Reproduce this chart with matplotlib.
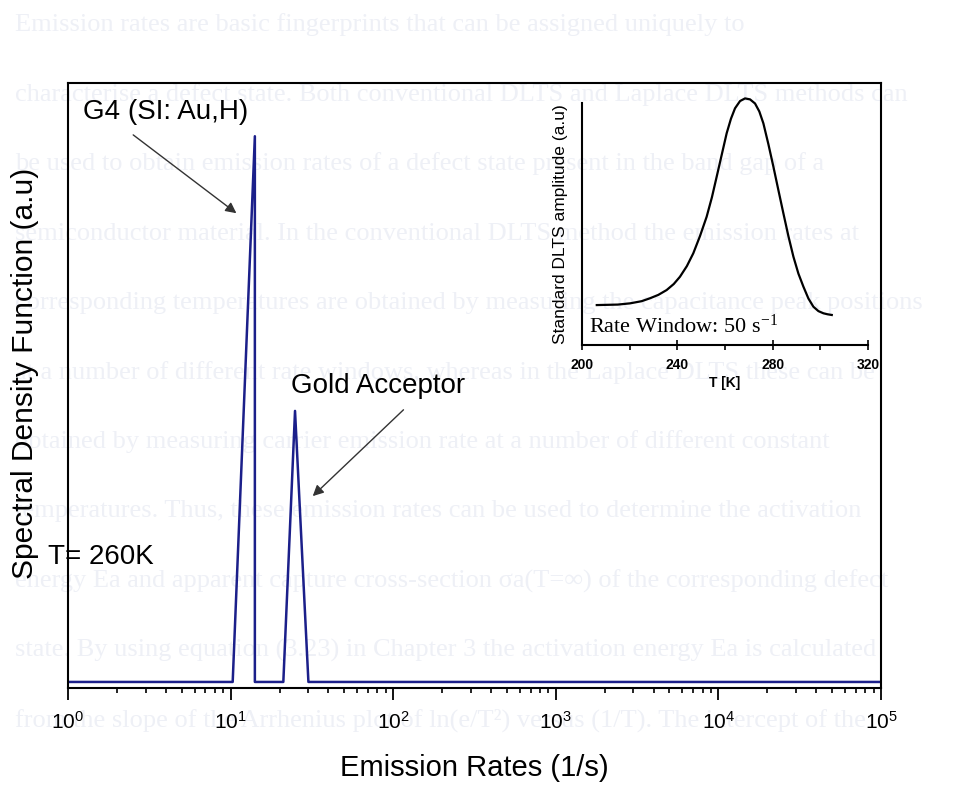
import matplotlib
matplotlib.use("Agg")
import matplotlib.pyplot as plt
from matplotlib.ticker import FixedLocator, LogLocator, NullFormatter

plt.rcParams["font.family"] = ["Liberation Sans", "DejaVu Sans"]
plt.rcParams["mathtext.default"] = "regular"

# Laplace DLTS spectrum at T = 260 K
rates = [1, 10.3, 14.1, 14.1, 21.1, 24.9, 30.1, 1e5]
density = [0.01, 0.01, 0.912, 0.01, 0.01, 0.458, 0.01, 0.01]

# inset: conventional DLTS scan, rate window 50 s^-1
temp_K = [206.2, 215.0, 220.1, 225.0, 228.5, 232.0, 235.5, 238.5, 241.1, 244.0,
          246.7, 249.5, 252.3, 254.5, 256.5, 258.6, 260.7, 262.5, 264.2, 266.3,
          268.4, 270.5, 272.6, 274.4, 276.1, 278.2, 280.3, 282.4, 284.5, 286.6,
          288.7, 290.8, 292.9, 295.0, 297.1, 299.2, 301.3, 303.0, 304.8]
dlts_amp = [0.165, 0.167, 0.172, 0.181, 0.193, 0.207, 0.227, 0.252, 0.282, 0.326,
            0.379, 0.450, 0.530, 0.610, 0.695, 0.785, 0.875, 0.935, 0.978, 1.008,
            1.019, 1.015, 0.998, 0.965, 0.916, 0.830, 0.737, 0.640, 0.544, 0.450,
            0.365, 0.295, 0.241, 0.192, 0.158, 0.140, 0.131, 0.127, 0.124]
inset_ticks = [200, 240, 280, 320]
inset_minor = [220, 260, 300]

# faded thesis text showing through the scan
page_lines = [
    "Emission rates are basic fingerprints that can be assigned uniquely to",
    "characterise a defect state. Both conventional DLTS and Laplace DLTS methods can",
    "be used to obtain emission rates of a defect state present in the band gap of a",
    "semiconductor material. In the conventional DLTS method the emission rates at",
    "corresponding temperatures are obtained by measuring the capacitance peak positions",
    "at a number of different rate windows, whereas in the Laplace DLTS these can be",
    "obtained by measuring carrier emission rate at a number of different constant",
    "temperatures. Thus, these emission rates can be used to determine the activation",
    "energy Ea and apparent capture cross-section \u03c3a(T=\u221e) of the corresponding defect",
    "state. By using equation (3.23) in Chapter 3 the activation energy Ea is calculated",
    "from the slope of the Arrhenius plot of ln(e/T\u00b2) versus (1/T). The intercept of the",
]

fig = plt.figure(figsize=(9.74, 7.87), dpi=100)
for i, line in enumerate(page_lines):
    fig.text(0.015, 1 - (25 + 69.5 * i) / 787, line, family="Liberation Serif",
             fontsize=19, color="#eef0f6", va="center", ha="left", zorder=-1)

ax = fig.add_axes([68 / 974, 1 - 688 / 787, 813 / 974, 605 / 787])
ax.set_facecolor("none")
ax.plot(rates, density, color="#1b1f8a", lw=1.8)
ax.set_xscale("log")
ax.set_xlim(1, 1e5)
ax.set_ylim(0, 1)
ax.set_yticks([])
ax.xaxis.set_major_locator(LogLocator(base=10, numticks=10))
ax.xaxis.set_minor_locator(LogLocator(base=10, subs=range(2, 10), numticks=20))
ax.xaxis.set_minor_formatter(NullFormatter())
ax.tick_params(axis="x", which="major", direction="out", length=8.5, width=1.3,
               labelsize=15, pad=8)
ax.tick_params(axis="x", which="minor", direction="out", length=3.6, width=1.2)
for s in ax.spines.values():
    s.set_linewidth(1.5)
ax.set_xlabel("Emission Rates (1/s)", fontsize=21, labelpad=15)
ax.set_ylabel("Spectral Density Function (a.u)", fontsize=21.5)
ax.yaxis.set_label_coords(-0.036, 0.52)

ax.text(1.236, 0.952, "G4 (SI: Au,H)", fontsize=20, va="center", ha="left")
ax.annotate("", xy=(11.2, 0.782), xytext=(2.44, 0.917),
            arrowprops=dict(arrowstyle="-|>", color="#333333", lw=1,
                            mutation_scale=16))
ax.text(23.4, 0.499, "Gold Acceptor", fontsize=20, va="center", ha="left")
ax.annotate("", xy=(31.1, 0.314), xytext=(119, 0.463),
            arrowprops=dict(arrowstyle="-|>", color="#333333", lw=1,
                            mutation_scale=16))
ax.text(0.754, 0.2165, "T= 260K", fontsize=20, va="center", ha="left")

axi = fig.add_axes([582 / 974, 1 - 345 / 787, 286 / 974, 242 / 787])
axi.set_facecolor("none")
axi.plot(temp_K, dlts_amp, color="black", lw=1.6, clip_on=False)
axi.set_xlim(200, 320)
axi.set_ylim(0, 1)
axi.set_yticks([])
axi.set_xticks(inset_ticks)
axi.xaxis.set_minor_locator(FixedLocator(inset_minor))
axi.tick_params(axis="x", which="major", direction="inout", length=7, width=1.2,
                labelsize=10, pad=6)
axi.tick_params(axis="x", which="minor", direction="out", length=3.5, width=1.2)
for lab in axi.get_xticklabels():
    lab.set_fontweight("bold")
for side in ("top", "right"):
    axi.spines[side].set_visible(False)
for side in ("left", "bottom"):
    axi.spines[side].set_linewidth(1.5)
axi.set_xlabel("T [K]", fontsize=10, fontweight="bold", labelpad=3)
axi.set_ylabel("Standard DLTS amplitude (a.u)", fontsize=12.5, labelpad=10)
axi.text(203, 0.03, "Rate Window: 50 s$^{-1}$", family="Liberation Serif",
         fontsize=16, va="bottom", ha="left")

fig.savefig("out.png", dpi=100)
